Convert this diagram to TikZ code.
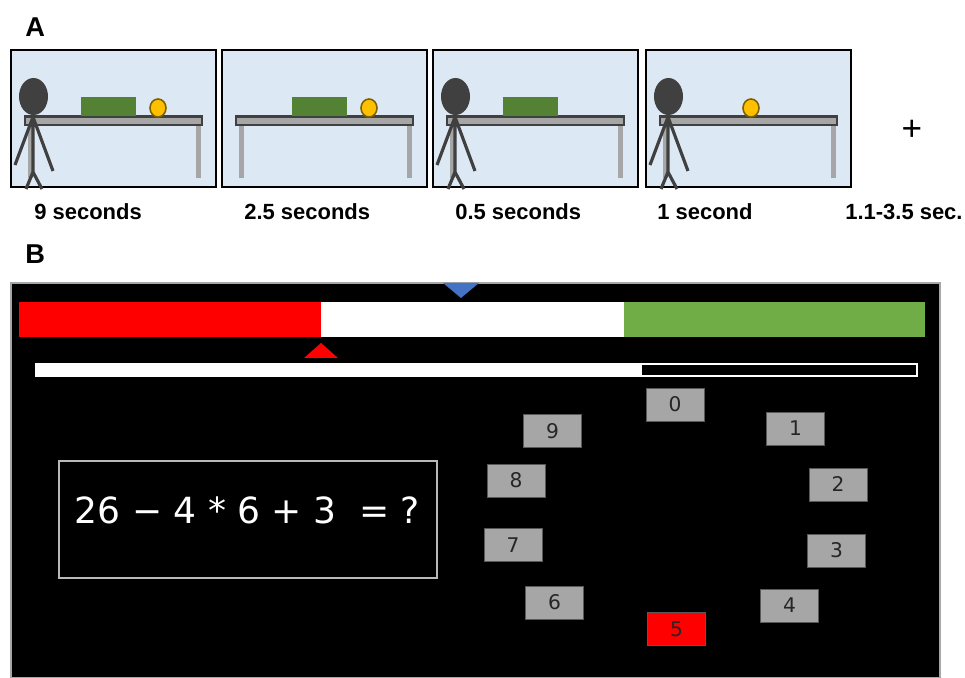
\documentclass[tikz,border=0pt]{standalone}
\usepackage{fontspec}
\setmainfont{Liberation Sans}
\newfontfamily\screenfont{DejaVu Sans}
\usetikzlibrary{positioning}

\definecolor{sceneblue}{RGB}{221,232,245}
\definecolor{figgray}{RGB}{64,64,64}
\definecolor{deskgray}{RGB}{166,166,166}
\definecolor{blockgreen}{RGB}{84,130,53}
\definecolor{ballorange}{RGB}{255,192,0}
\definecolor{ballrim}{RGB}{127,96,0}
\definecolor{barred}{RGB}{255,0,0}
\definecolor{bargreen}{RGB}{112,173,71}
\definecolor{markblue}{RGB}{68,114,196}

% one scene: background, table and frame
\newcommand{\sceneframe}{%
  \fill[sceneblue] (0,50) rectangle (205,187);
  \fill[deskgray] (17,124) rectangle (22,178);
  \fill[deskgray] (185,124) rectangle (190,178);
  \filldraw[fill=deskgray, draw=figgray, line width=1.4pt] (14,116.5) rectangle (191,125);
  \draw[line width=1.3pt] (0,50) rectangle (205,187);
}
\newcommand{\stickman}{%
  \fill[figgray] (22.5,96.5) ellipse [x radius=14.5, y radius=18.5];
  \draw[figgray, line width=1.8pt]
    (22,112) -- (22,172)
    (22,117) -- (4,165)
    (22,117) -- (42,171)
    (22,172) -- (15,189)
    (22,172) -- (31,189);
}
\newcommand{\greenblock}{\fill[blockgreen] (70,97) rectangle (125,116);}
\newcommand{\ball}[1]{\filldraw[fill=ballorange, draw=ballrim, line width=0.9pt] (#1,108) ellipse [x radius=8, y radius=9];}

\begin{document}
\begin{tikzpicture}[x=0.02cm, y=-0.02cm,
    timelabel/.style={anchor=base west, inner sep=0pt, font=\bfseries\fontsize{12.5}{15}\selectfont},
    panel/.style={anchor=base west, inner sep=0pt, font=\bfseries\fontsize{15.5}{18}\selectfont},
    keybox/.style={rectangle, draw=gray!70!black, fill=deskgray, minimum width=1.16cm, minimum height=0.66cm, inner sep=0pt, font=\screenfont\fontsize{11.5}{12}\selectfont, text=black!85}
]
    \useasboundingbox (0,0) rectangle (965,678);

    % A: the four scenes
    \node[panel] (pa) at (25,37) {A};
    \begin{scope}[shift={(11,0)}]
        \sceneframe \greenblock \ball{147} \stickman
    \end{scope}
    \begin{scope}[shift={(222,0)}]
        \sceneframe \greenblock \ball{147}
    \end{scope}
    \begin{scope}[shift={(433,0)}]
        \sceneframe \greenblock \stickman
    \end{scope}
    \begin{scope}[shift={(646,0)}]
        \sceneframe \ball{105} \stickman
    \end{scope}
    \node[font=\fontsize{20}{20}\selectfont] (fix) at (912,130) {+};

    \node[timelabel] (t1) at (34,220) {9 seconds};
    \node[timelabel] (t2) at (244,220) {2.5 seconds};
    \node[timelabel] (t3) at (455,220) {0.5 seconds};
    \node[timelabel] (t4) at (657,220) {1 second};
    \node[timelabel] (t5) at (845,220) {1.1-3.5 sec.};

    % B: the task screen
    \node[panel] (pb) at (25,264) {B};
    \filldraw[fill=black, draw=gray!70, line width=0.6pt] (11,283) rectangle (940,678);

    \fill[barred] (19,302) rectangle (321,337);
    \fill[white] (321,302) rectangle (624,337);
    \fill[bargreen] (624,302) rectangle (925,337);
    \fill[markblue] (443,283) -- (479,283) -- (461,298) -- cycle;
    \fill[barred] (304,358) -- (338,358) -- (321,343) -- cycle;

    \fill[white] (35,363) rectangle (641,377);
    \draw[white, line width=1.1pt] (641,364) rectangle (917,376);

    \draw[gray!55, line width=1.3pt] (59,461) rectangle (437,578);
    \node[anchor=base, text=white, font=\screenfont\fontsize{20.5}{22}\selectfont] (eq) at (247.5,524) {26 − 4 * 6 + 3 \ = ?};

    \node[keybox] (k0) at (675,404.5) {0};
    \node[keybox] (k1) at (795.5,428.5) {1};
    \node[keybox] (k2) at (838,484.5) {2};
    \node[keybox] (k3) at (836.5,550.5) {3};
    \node[keybox] (k4) at (789.5,605.5) {4};
    \node[keybox, fill=barred] (k5) at (676.5,629) {5};
    \node[keybox] (k6) at (554.5,602.5) {6};
    \node[keybox] (k7) at (513,545) {7};
    \node[keybox] (k8) at (516,480.5) {8};
    \node[keybox] (k9) at (552.5,431) {9};
\end{tikzpicture}
\end{document}
